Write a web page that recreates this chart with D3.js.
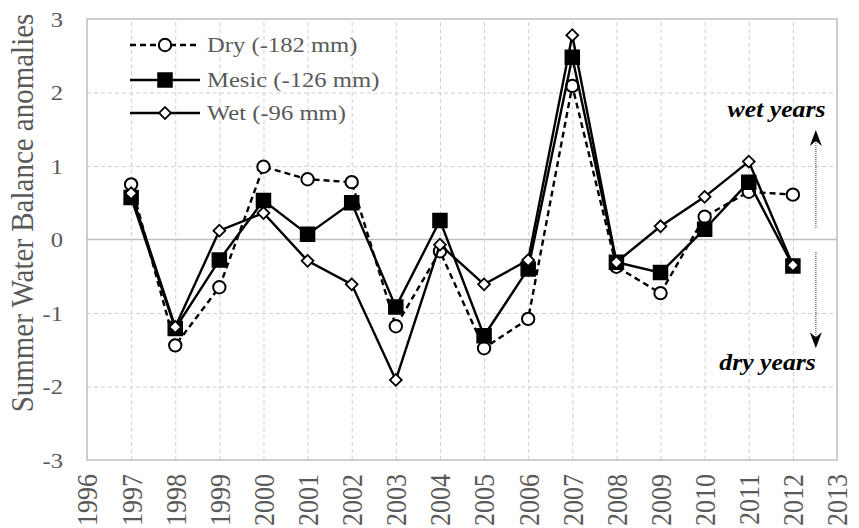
<!DOCTYPE html>
<html lang="en">
<head>
<meta charset="UTF-8">
<title>Summer Water Balance anomalies</title>
<script src="https://cdn.jsdelivr.net/npm/d3@7"></script>
<style>
  body { margin: 0; background: #ffffff; }
  text { font-family: "Liberation Serif", "Times New Roman", serif; }
</style>
</head>
<body>
<script>
// values
var years = [1997, 1998, 1999, 2000, 2001, 2002, 2003, 2004, 2005, 2006, 2007, 2008, 2009, 2010, 2011, 2012];
var dry   = [0.75, -1.44, -0.65, 0.99, 0.82, 0.78, -1.18, -0.16, -1.48, -1.08, 2.09, -0.37, -0.73, 0.31, 0.65, 0.61];
var mesic = [0.57, -1.21, -0.28, 0.53, 0.07, 0.50, -0.92, 0.26, -1.31, -0.40, 2.48, -0.31, -0.45, 0.14, 0.78, -0.36];
var wet   = [0.63, -1.19, 0.12, 0.36, -0.29, -0.61, -1.91, -0.07, -0.61, -0.28, 2.78, -0.31, 0.18, 0.58, 1.06, -0.35];
var seriesNames = ["Dry (-182 mm)", "Mesic (-126 mm)", "Wet (-96 mm)"];
var yTicks = [-3, -2, -1, 0, 1, 2, 3];
var xTicks = [1996, 1997, 1998, 1999, 2000, 2001, 2002, 2003, 2004, 2005, 2006, 2007, 2008, 2009, 2010, 2011, 2012, 2013];

var W = 859, H = 528;
var pL = 87, pR = 837, pT = 19, pB = 460;
var sx = 1.12; // text in the reference is a little wider than tall
var grey = "#595959";

var svg = d3.select("body").append("svg")
    .attr("width", W)
    .attr("height", H);

var x = d3.scaleLinear().domain([1996, 2013]).range([pL, pR]);
var y = d3.scaleLinear().domain([-3, 3]).range([pB, pT]);

// grid
svg.append("g")
    .attr("transform", "translate(0," + pB + ")")
    .call(d3.axisBottom(x).tickValues(years).tickSize(-(pB - pT)).tickFormat(""))
    .call(function(g) { g.select(".domain").remove(); })
    .selectAll("line")
    .attr("stroke", "#d0d0d0")
    .attr("stroke-dasharray", "4,3");

svg.append("g")
    .attr("transform", "translate(" + pL + ",0)")
    .call(d3.axisLeft(y).tickValues([-2, -1, 1, 2]).tickSize(-(pR - pL)).tickFormat(""))
    .call(function(g) { g.select(".domain").remove(); })
    .selectAll("line")
    .attr("stroke", "#d0d0d0")
    .attr("stroke-dasharray", "4,3");

// zero line and frame
svg.append("line")
    .attr("x1", pL).attr("x2", pR)
    .attr("y1", y(0)).attr("y2", y(0))
    .attr("stroke", "#bfbfbf").attr("stroke-width", 1.5);

svg.append("rect")
    .attr("x", pL).attr("y", pT)
    .attr("width", pR - pL).attr("height", pB - pT)
    .attr("fill", "none")
    .attr("stroke", "#bfbfbf").attr("stroke-width", 1.5);

// y axis labels (plain hyphen minus, as in the reference)
svg.append("g")
    .attr("transform", "translate(" + pL + ",0)")
    .call(d3.axisLeft(y).tickValues(yTicks).tickSize(0).tickFormat(function(d) { return String(d); }))
    .call(function(g) { g.select(".domain").remove(); })
    .selectAll("text")
    .attr("x", 0)
    .attr("dy", "0.34em")
    .attr("transform", "translate(-24,0) scale(" + sx + ",1)")
    .attr("fill", grey)
    .style("font-size", "22px")
    .style("font-family", "'Liberation Serif', serif");

// x axis labels
svg.append("g")
    .attr("transform", "translate(0," + pB + ")")
    .call(d3.axisBottom(x).tickValues(xTicks).tickSize(0).tickFormat(function(d) { return String(d); }))
    .call(function(g) { g.select(".domain").remove(); })
    .selectAll("text")
    .attr("y", 0)
    .attr("dy", "0.34em")
    .attr("transform", "translate(0,14) scale(" + sx + ",1) rotate(-90)")
    .attr("text-anchor", "end")
    .attr("fill", grey)
    .style("font-size", "26px")
    .style("font-family", "'Liberation Serif', serif");

// y title
svg.append("text")
    .attr("transform", "translate(33,213) scale(" + sx + ",1) rotate(-90)")
    .attr("text-anchor", "middle")
    .attr("fill", grey)
    .style("font-size", "29px")
    .text("Summer Water Balance anomalies");

// series
var series = [
    { name: seriesNames[0], values: dry, dash: "6,4", symbol: "circle" },
    { name: seriesNames[1], values: mesic, dash: null, symbol: "square" },
    { name: seriesNames[2], values: wet, dash: null, symbol: "diamond" }
];

var line = d3.line()
    .x(function(d) { return x(d[0]); })
    .y(function(d) { return y(d[1]); });

function drawMarker(sel, kind) {
    if (kind === "circle") {
        sel.append("path")
            .attr("d", d3.symbol(d3.symbolCircle, 120)())
            .attr("fill", "#ffffff").attr("stroke", "#000").attr("stroke-width", 2);
    } else if (kind === "square") {
        sel.append("path")
            .attr("d", d3.symbol(d3.symbolSquare, 196)())
            .attr("fill", "#000").attr("stroke", "#000").attr("stroke-width", 1.5);
    } else {
        sel.append("path")
            .attr("d", d3.symbol(d3.symbolSquare, 70)())
            .attr("transform", "rotate(45)")
            .attr("fill", "#ffffff").attr("stroke", "#000").attr("stroke-width", 1.8);
    }
}

series.forEach(function(s) {
    var pts = years.map(function(yr, i) { return [yr, s.values[i]]; });
    svg.append("path")
        .datum(pts)
        .attr("d", line)
        .attr("fill", "none")
        .attr("stroke", "#000")
        .attr("stroke-width", 2.4)
        .attr("stroke-dasharray", s.dash);
    svg.selectAll("g.m-" + s.symbol)
        .data(pts)
        .enter()
        .append("g")
        .attr("class", "m-" + s.symbol)
        .attr("transform", function(d) { return "translate(" + x(d[0]) + "," + y(d[1]) + ")"; })
        .each(function() { drawMarker(d3.select(this), s.symbol); });
});

// legend
var legend = svg.selectAll("g.legend")
    .data(series)
    .enter()
    .append("g")
    .attr("class", "legend")
    .attr("transform", function(d, i) { return "translate(130," + [45, 80, 113][i] + ")"; });

legend.append("line")
    .attr("x1", 0).attr("x2", 70)
    .attr("stroke", "#000").attr("stroke-width", 2.4)
    .attr("stroke-dasharray", function(d) { return d.dash; });

legend.append("g")
    .attr("transform", "translate(35,0)")
    .each(function(d) { drawMarker(d3.select(this), d.symbol); });

legend.append("text")
    .attr("transform", "translate(77,0) scale(" + sx + ",1)")
    .attr("dy", "0.34em")
    .attr("fill", grey)
    .style("font-size", "22px")
    .text(function(d) { return d.name; });

// wet / dry annotation
var ax = x(2012.52);
function arrowHead(tipY, dir) {
    // dir -1 points up, 1 points down
    var p = d3.path();
    p.moveTo(ax, tipY);
    p.lineTo(ax - 6, tipY - dir * 16);
    p.lineTo(ax, tipY - dir * 11);
    p.lineTo(ax + 6, tipY - dir * 16);
    p.closePath();
    svg.append("path").attr("d", p.toString()).attr("fill", "#000");
}

svg.append("line")
    .attr("x1", ax).attr("x2", ax)
    .attr("y1", y(1.45)).attr("y2", y(0.16))
    .attr("stroke", "#777").attr("stroke-width", 1.5).attr("stroke-dasharray", "1,1");
arrowHead(y(1.49), -1);

svg.append("line")
    .attr("x1", ax).attr("x2", ax)
    .attr("y1", y(-0.17)).attr("y2", y(-1.44))
    .attr("stroke", "#777").attr("stroke-width", 1.5).attr("stroke-dasharray", "1,1");
arrowHead(y(-1.48), 1);

svg.append("text")
    .attr("transform", "translate(" + x(2012.74) + "," + y(1.67) + ") scale(" + sx + ",1)")
    .attr("text-anchor", "end")
    .style("font-size", "23px")
    .style("font-weight", "bold")
    .style("font-style", "italic")
    .text("wet years");

svg.append("text")
    .attr("transform", "translate(" + x(2012.52) + "," + y(-1.78) + ") scale(" + sx + ",1)")
    .attr("text-anchor", "end")
    .style("font-size", "23px")
    .style("font-weight", "bold")
    .style("font-style", "italic")
    .text("dry years");
</script>
</body>
</html>
